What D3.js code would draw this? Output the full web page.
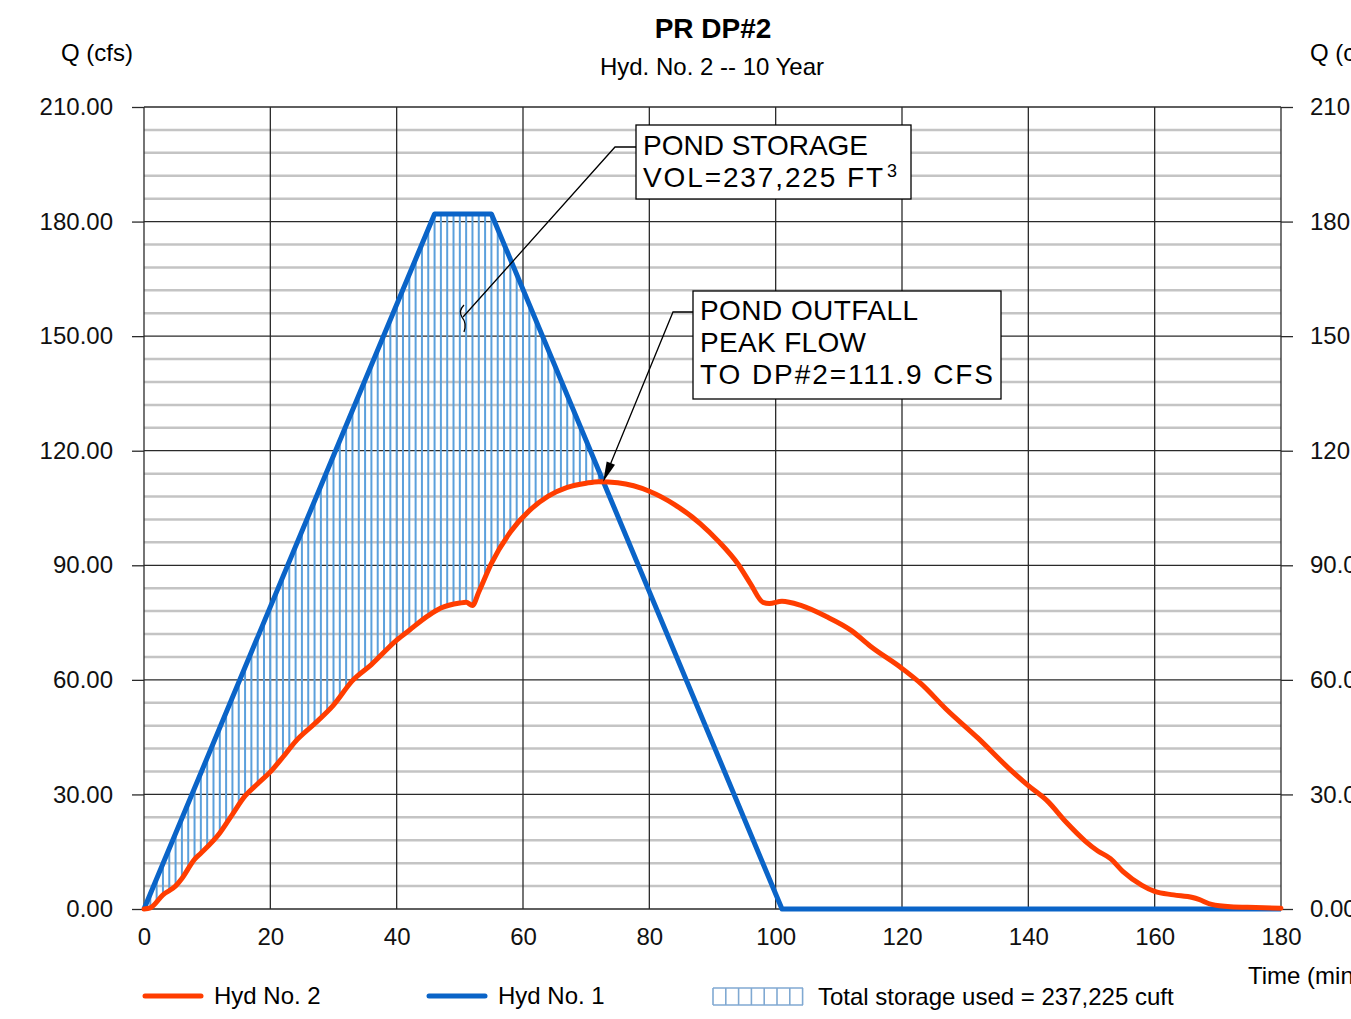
<!DOCTYPE html>
<head>
    <meta charset="utf-8">
    <title>PR DP#2</title>
    <script src="https://d3js.org/d3.v7.min.js"></script>
</head>

<body>
<svg id="chart" width="1351" height="1019"></svg>
</body>

<script>

    // Hyd No. 2 (pond outfall)
    var hyd2Time = [0, 1, 3, 5, 6, 8, 9, 12, 14, 16, 18, 20, 22, 24, 27, 30, 33, 36, 40, 42, 45, 47, 50, 51, 52, 53, 55, 58, 61, 64, 67, 70, 72, 75, 80, 84, 88, 91, 94, 96, 98, 99, 101, 104, 108, 112, 115, 120, 123, 127, 132, 137, 140, 143, 146, 149, 151, 153, 155, 158, 160, 163, 166, 167, 169, 172, 176, 180]
    var hyd2Flow = [0, 0.3, 3.7, 6.0, 8.0, 13.0, 14.6, 19.9, 24.8, 29.6, 32.8, 35.9, 39.8, 43.9, 48.5, 53.4, 59.8, 64.0, 70.4, 73.0, 76.8, 78.8, 80.1, 80.3, 79.5, 83.0, 90.5, 98.7, 104.3, 108.1, 110.4, 111.5, 111.9, 111.6, 109.4, 105.9, 101.0, 96.2, 90.4, 85.2, 80.3, 80.0, 80.6, 79.5, 76.6, 72.9, 68.8, 63.0, 59.0, 52.3, 44.8, 36.7, 32.3, 28.3, 22.7, 17.8, 15.2, 13.2, 9.8, 6.2, 4.6, 3.7, 3.0, 2.5, 1.2, 0.6, 0.4, 0.2]

    // Hyd No. 1 (inflow)
    var hyd1Time = [0, 46, 55, 101, 180]
    var hyd1Flow = [0, 182, 182, 0, 0]

    var yTicks = [0, 30, 60, 90, 120, 150, 180, 210]
    var yMinor = [6, 12, 18, 24, 36, 42, 48, 54, 66, 72, 78, 84, 96, 102, 108, 114, 126, 132, 138, 144, 156, 162, 168, 174, 186, 192, 198, 204]
    var xTicks = [0, 20, 40, 60, 80, 100, 120, 140, 160, 180]

    var storageNote = ["POND  STORAGE", "VOL=237,225  FT"]
    var outfallNote = ["POND  OUTFALL", "PEAK  FLOW", "TO  DP#2=111.9  CFS"]
    var outfallPeak = {time: 72.7, flow: 111.9}
    var storagePoint = {time: 50.5, flow: 155}

    var font = "'Liberation Sans', Arial, sans-serif"
    var red = "#ff3d00", blue = "#0a64c8", hatch = "#5ba0dc"

    var svg = d3.select("#chart")

    var x = d3.scaleLinear().domain([0, 180]).range([144, 1281])
    var y = d3.scaleLinear().domain([0, 210]).range([909, 107])

    function interp(ts, qs, t) {
        for (var i = 1; i < ts.length; i++) {
            if (t <= ts[i]) {
                var f = (t - ts[i-1]) / (ts[i] - ts[i-1])
                return qs[i-1] + f * (qs[i] - qs[i-1])
            }
        }
        return qs[qs.length - 1]
    }

    // minor grid
    svg.selectAll(".minor")
        .data(yMinor)
        .enter().append("line")
        .attr("x1", x(0)).attr("x2", x(180))
        .attr("y1", function(d) { return y(d) }).attr("y2", function(d) { return y(d) })
        .attr("stroke", "#c4c4c4").attr("stroke-width", 2.5)

    // major grid
    svg.selectAll(".vgrid")
        .data(xTicks)
        .enter().append("line")
        .attr("x1", function(d) { return x(d) }).attr("x2", function(d) { return x(d) })
        .attr("y1", y(210)).attr("y2", y(0))
        .attr("stroke", "#2a2a2a").attr("stroke-width", 1.3)

    svg.selectAll(".hgrid")
        .data(yTicks)
        .enter().append("line")
        .attr("x1", x(0)).attr("x2", x(180))
        .attr("y1", function(d) { return y(d) }).attr("y2", function(d) { return y(d) })
        .attr("stroke", "#2a2a2a").attr("stroke-width", 1.3)

    // axes
    svg.append("g")
        .attr("transform", "translate(" + x(0) + ",0)")
        .call(d3.axisLeft(y).tickValues(yTicks).tickFormat(d3.format(".2f")).tickSize(12).tickPadding(19))
    svg.append("g")
        .attr("transform", "translate(" + x(180) + ",0)")
        .call(d3.axisRight(y).tickValues(yTicks).tickFormat(d3.format(".2f")).tickSize(12).tickPadding(17))
    svg.append("g")
        .attr("transform", "translate(0," + y(0) + ")")
        .call(d3.axisBottom(x).tickValues(xTicks).tickFormat(d3.format("d")).tickSize(0).tickPadding(19))

    svg.selectAll(".domain").remove()
    svg.selectAll(".tick line").attr("stroke", "#2a2a2a").attr("stroke-width", 1.3)
    svg.selectAll(".tick text").style("font-family", font).style("font-size", "24px").attr("fill", "#111")

    // storage hatch, one line per minute between the two hydrographs
    var minutes = d3.range(0, 181).filter(function(t) {
        return interp(hyd1Time, hyd1Flow, t) > interp(hyd2Time, hyd2Flow, t) + 0.5
    })
    svg.selectAll(".hatch")
        .data(minutes)
        .enter().append("line")
        .attr("x1", function(d) { return x(d) }).attr("x2", function(d) { return x(d) })
        .attr("y1", function(d) { return y(interp(hyd2Time, hyd2Flow, d)) })
        .attr("y2", function(d) { return y(interp(hyd1Time, hyd1Flow, d)) })
        .attr("stroke", hatch).attr("stroke-width", 2)

    // hydrographs
    var line1 = d3.line()
        .x(function(d, i) { return x(hyd1Time[i]) })
        .y(function(d) { return y(d) })
    svg.append("path")
        .attr("d", line1(hyd1Flow))
        .attr("fill", "none").attr("stroke", blue).attr("stroke-width", 5)
        .attr("stroke-linejoin", "round")

    var line2 = d3.line()
        .x(function(d, i) { return x(hyd2Time[i]) })
        .y(function(d) { return y(d) })
        .curve(d3.curveMonotoneX)
    svg.append("path")
        .attr("d", line2(hyd2Flow))
        .attr("fill", "none").attr("stroke", red).attr("stroke-width", 5)
        .attr("stroke-linejoin", "round").attr("stroke-linecap", "round")

    // titles
    svg.append("text").attr("x", 713).attr("y", 38).text("PR DP#2").attr("text-anchor", "middle")
        .style("font-family", font).style("font-size", "28px").style("font-weight", "bold")
    svg.append("text").attr("x", 712).attr("y", 75).text("Hyd. No. 2 -- 10 Year").attr("text-anchor", "middle")
        .style("font-family", font).style("font-size", "24px")
    svg.append("text").attr("x", 61).attr("y", 61).text("Q (cfs)")
        .style("font-family", font).style("font-size", "24px")
    svg.append("text").attr("x", 1310).attr("y", 61).text("Q (cfs)")
        .style("font-family", font).style("font-size", "24px")
    svg.append("text").attr("x", 1248).attr("y", 984).text("Time (min)")
        .style("font-family", font).style("font-size", "24px")

    // annotation: pond storage
    var sx = x(storagePoint.time), sy = y(storagePoint.flow)
    svg.append("path")
        .attr("d", "M" + sx + "," + sy + " L615,147 L636,147")
        .attr("fill", "none").attr("stroke", "#000").attr("stroke-width", 1.3)
    svg.append("path")
        .attr("d", "M" + (sx + 1) + "," + (sy - 12) + " Q" + (sx - 5) + "," + (sy - 6) + " " + (sx - 1) + "," + sy
            + " Q" + (sx + 4) + "," + (sy + 6) + " " + (sx + 1) + "," + (sy + 15))
        .attr("fill", "none").attr("stroke", "#000").attr("stroke-width", 1.3)
    svg.append("rect").attr("x", 636).attr("y", 125).attr("width", 275).attr("height", 74)
        .attr("fill", "white").attr("stroke", "#000").attr("stroke-width", 1.3)
    svg.append("text").attr("x", 643).attr("y", 155).text(storageNote[0])
        .attr("textLength", 225).attr("lengthAdjust", "spacing")
        .style("font-family", font).style("font-size", "28px").style("font-weight", "300")
    svg.append("text").attr("x", 643).attr("y", 187).text(storageNote[1])
        .attr("textLength", 240).attr("lengthAdjust", "spacing")
        .style("font-family", font).style("font-size", "28px").style("font-weight", "300")
    svg.append("text").attr("x", 887).attr("y", 177).text("3")
        .style("font-family", font).style("font-size", "18px")

    // annotation: outfall peak
    var px = x(outfallPeak.time), py = y(outfallPeak.flow)
    var ax = 673, ay = 312
    var len = Math.sqrt((ax - px) * (ax - px) + (ay - py) * (ay - py))
    var ux = (ax - px) / len, uy = (ay - py) / len
    svg.append("path")
        .attr("d", "M" + (px + ux * 18) + "," + (py + uy * 18) + " L" + ax + "," + ay + " L693," + ay)
        .attr("fill", "none").attr("stroke", "#000").attr("stroke-width", 1.3)
    svg.append("path")
        .attr("d", "M" + px + "," + py
            + " L" + (px + ux * 20 - uy * 4.5) + "," + (py + uy * 20 + ux * 4.5)
            + " L" + (px + ux * 20 + uy * 4.5) + "," + (py + uy * 20 - ux * 4.5) + " Z")
        .attr("fill", "#000")
    svg.append("rect").attr("x", 693).attr("y", 291).attr("width", 308).attr("height", 108)
        .attr("fill", "white").attr("stroke", "#000").attr("stroke-width", 1.3)
    var outfallLen = [218, 166, 293]
    svg.selectAll(".outfall")
        .data(outfallNote)
        .enter().append("text")
        .attr("x", 700)
        .attr("y", function(d, i) { return 320 + i * 32 })
        .attr("textLength", function(d, i) { return outfallLen[i] })
        .attr("lengthAdjust", "spacing")
        .text(function(d) { return d })
        .style("font-family", font).style("font-size", "28px").style("font-weight", "300")

    // legend
    svg.append("line").attr("x1", 145).attr("x2", 201).attr("y1", 996).attr("y2", 996)
        .attr("stroke", red).attr("stroke-width", 5).attr("stroke-linecap", "round")
    svg.append("text").attr("x", 214).attr("y", 1004).text("Hyd No. 2")
        .style("font-family", font).style("font-size", "24px")
    svg.append("line").attr("x1", 429).attr("x2", 485).attr("y1", 996).attr("y2", 996)
        .attr("stroke", blue).attr("stroke-width", 5).attr("stroke-linecap", "round")
    svg.append("text").attr("x", 498).attr("y", 1004).text("Hyd No. 1")
        .style("font-family", font).style("font-size", "24px")

    svg.selectAll(".legendHatch")
        .data(d3.range(0, 8))
        .enter().append("line")
        .attr("x1", function(d) { return 713 + d * 12.8 }).attr("x2", function(d) { return 713 + d * 12.8 })
        .attr("y1", 988).attr("y2", 1005)
        .attr("stroke", "#80a9d2").attr("stroke-width", 1.6)
    svg.append("line").attr("x1", 713).attr("x2", 803).attr("y1", 988).attr("y2", 988)
        .attr("stroke", "#80a9d2").attr("stroke-width", 1.4)
    svg.append("line").attr("x1", 713).attr("x2", 803).attr("y1", 1005).attr("y2", 1005)
        .attr("stroke", "#80a9d2").attr("stroke-width", 1.4)
    svg.append("text").attr("x", 818).attr("y", 1005).text("Total storage used = 237,225 cuft")
        .style("font-family", font).style("font-size", "24px")

</script>

<style>
    html, body {
        margin: 0;
        background: white;
    }
    svg {
        display: block;
        background: white;
    }
</style>

</html>
